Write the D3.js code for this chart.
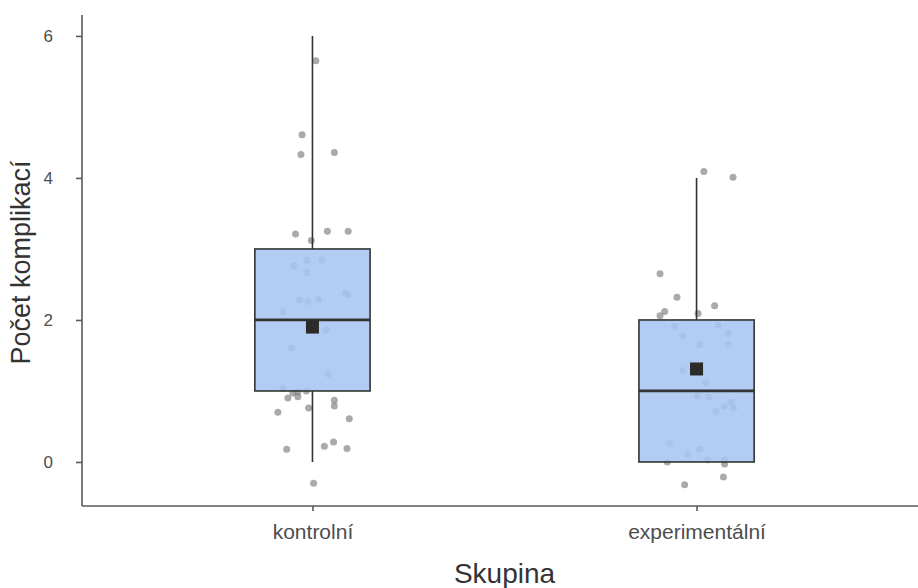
<!DOCTYPE html>
<html>
<head>
<meta charset="utf-8">
<script src="https://cdn.jsdelivr.net/npm/d3@7"></script>
<style>
  body { margin: 0; background: #fff; }
  svg { display: block; font-family: "Liberation Sans", Arial, sans-serif; }
</style>
</head>
<body>
<svg id="chart" width="918" height="588"></svg>
<script>
// Groups on the x axis
const categories = ["kontrolní", "experimentální"];

// Five-number summaries per group: min, Q1, median, Q3, max
const boxMin    = [0, 0];
const boxQ1     = [1, 0];
const boxMedian = [2, 1];
const boxQ3     = [3, 2];
const boxMax    = [6, 4];
const groupMean = [1.9, 1.31];

// Jittered observations: horizontal offset from group centre and jittered count
const ctrlOffset = [0.009, -0.027, -0.030, 0.057, -0.044, -0.003, 0.039, 0.093, -0.049, -0.015,
                    0.025, -0.015, 0.086, 0.093, -0.034, -0.011, 0.016, -0.077, 0.036, -0.055,
                    0.041, -0.077, -0.051, -0.038, -0.016, -0.064, -0.038, 0.057, 0.057, -0.010,
                    -0.090, 0.096, -0.067, 0.031, 0.055, 0.090, 0.003];
const ctrlValue  = [5.65, 4.61, 4.33, 4.36, 3.21, 3.12, 3.25, 3.25, 2.76, 2.84,
                    2.84, 2.67, 2.38, 2.35, 2.28, 2.26, 2.29, 2.12, 1.86, 1.61,
                    1.24, 1.04, 0.97, 0.99, 1.00, 0.90, 0.92, 0.87, 0.79, 0.76,
                    0.70, 0.61, 0.18, 0.22, 0.28, 0.19, -0.30];
const expOffset  = [0.019, 0.095, -0.095, -0.051, -0.083, -0.095, 0.004, 0.047, -0.057, -0.036,
                    0.008, 0.056, 0.083, 0.083, -0.036, 0.024, 0.002, 0.032, 0.051, 0.073,
                    0.090, 0.097, -0.070, 0.008, -0.023, -0.076, 0.029, 0.073, 0.073, 0.070,
                    -0.031];
const expValue   = [4.09, 4.01, 2.65, 2.32, 2.12, 2.06, 2.09, 2.20, 1.91, 1.77,
                    1.65, 1.93, 1.81, 1.66, 1.29, 1.12, 0.93, 0.91, 0.71, 0.78,
                    0.84, 0.76, 0.26, 0.18, 0.11, 0.00, 0.03, 0.03, -0.03, -0.21,
                    -0.32];

const yTicks = [0, 2, 4, 6];

const svg = d3.select("#chart");
const plot = { left: 82, right: 927, top: 15, bottom: 506 };

// Discrete positions 1..n with 0.6 expansion on each side
const x = d3.scaleLinear().domain([0.4, 2.6]).range([plot.left, plot.right]);
const y = d3.scaleLinear().domain([-0.62, 6.295]).range([plot.bottom, plot.top]);

const boxHalf = 0.15;
const ink = "#333333";

const points = [];
ctrlValue.forEach((v, i) => points.push({ g: 0, dx: ctrlOffset[i], v }));
expValue.forEach((v, i) => points.push({ g: 1, dx: expOffset[i], v }));

// Jittered points sit beneath the semi-opaque boxes
svg.append("g").selectAll("circle").data(points).join("circle")
  .attr("cx", d => x(d.g + 1 + d.dx))
  .attr("cy", d => y(d.v))
  .attr("r", 3.5)
  .attr("fill", "#767676")
  .attr("fill-opacity", 0.62);

const groups = svg.append("g").selectAll("g").data(categories).join("g");

// Whiskers
groups.append("line")
  .attr("x1", (d, i) => x(i + 1)).attr("x2", (d, i) => x(i + 1))
  .attr("y1", (d, i) => y(boxQ3[i])).attr("y2", (d, i) => y(boxMax[i]))
  .attr("stroke", ink).attr("stroke-width", 1.6);
groups.append("line")
  .attr("x1", (d, i) => x(i + 1)).attr("x2", (d, i) => x(i + 1))
  .attr("y1", (d, i) => y(boxQ1[i])).attr("y2", (d, i) => y(boxMin[i]))
  .attr("stroke", ink).attr("stroke-width", 1.6);

// Boxes
groups.append("rect")
  .attr("x", (d, i) => x(i + 1 - boxHalf))
  .attr("width", (d, i) => x(i + 1 + boxHalf) - x(i + 1 - boxHalf))
  .attr("y", (d, i) => y(boxQ3[i]))
  .attr("height", (d, i) => y(boxQ1[i]) - y(boxQ3[i]))
  .attr("fill", "#a7c5f2")
  .attr("fill-opacity", 0.88)
  .attr("stroke", ink).attr("stroke-width", 1.6);

// Medians
groups.append("line")
  .attr("x1", (d, i) => x(i + 1 - boxHalf)).attr("x2", (d, i) => x(i + 1 + boxHalf))
  .attr("y1", (d, i) => y(boxMedian[i])).attr("y2", (d, i) => y(boxMedian[i]))
  .attr("stroke", ink).attr("stroke-width", 2.8);

// Means as squares
const sq = 13;
groups.append("rect")
  .attr("x", (d, i) => x(i + 1) - sq / 2)
  .attr("y", (d, i) => y(groupMean[i]) - sq / 2)
  .attr("width", sq).attr("height", sq)
  .attr("fill", "#2b2b2b");

// Axes
const axisColor = "#5a5a5a";
const yAxis = svg.append("g").attr("transform", `translate(${plot.left},0)`)
  .call(d3.axisLeft(y).tickValues(yTicks).tickSize(6).tickPadding(23).tickFormat(d3.format("d")));
yAxis.select(".domain").attr("d", `M0,${plot.top}V${plot.bottom}`);
yAxis.selectAll(".tick text").attr("font-size", 17);

const xAxis = svg.append("g").attr("transform", `translate(0,${plot.bottom})`)
  .call(d3.axisBottom(x).tickValues([1, 2]).tickSize(5).tickPadding(13)
    .tickFormat(d => categories[d - 1]));
xAxis.select(".domain").attr("d", `M${plot.left},0H${plot.right}`);
xAxis.selectAll(".tick text").attr("font-size", 21);

[yAxis, xAxis].forEach(a => {
  a.select(".domain").attr("stroke", axisColor).attr("stroke-width", 1.6);
  a.selectAll(".tick line").attr("stroke", axisColor).attr("stroke-width", 1.6);
  a.selectAll(".tick text").attr("fill", "#4d4d4d")
    .attr("font-family", "Liberation Sans, Arial, sans-serif");
});

// Axis titles
svg.append("text")
  .attr("x", (plot.left + plot.right) / 2).attr("y", 583)
  .attr("text-anchor", "middle").attr("font-size", 28).attr("fill", "#333")
  .text("Skupina");
svg.append("text")
  .attr("transform", `translate(30,${(plot.top + plot.bottom) / 2 + 2}) rotate(-90)`)
  .attr("text-anchor", "middle").attr("font-size", 27).attr("fill", "#333")
  .text("Počet komplikací");
</script>
</body>
</html>
